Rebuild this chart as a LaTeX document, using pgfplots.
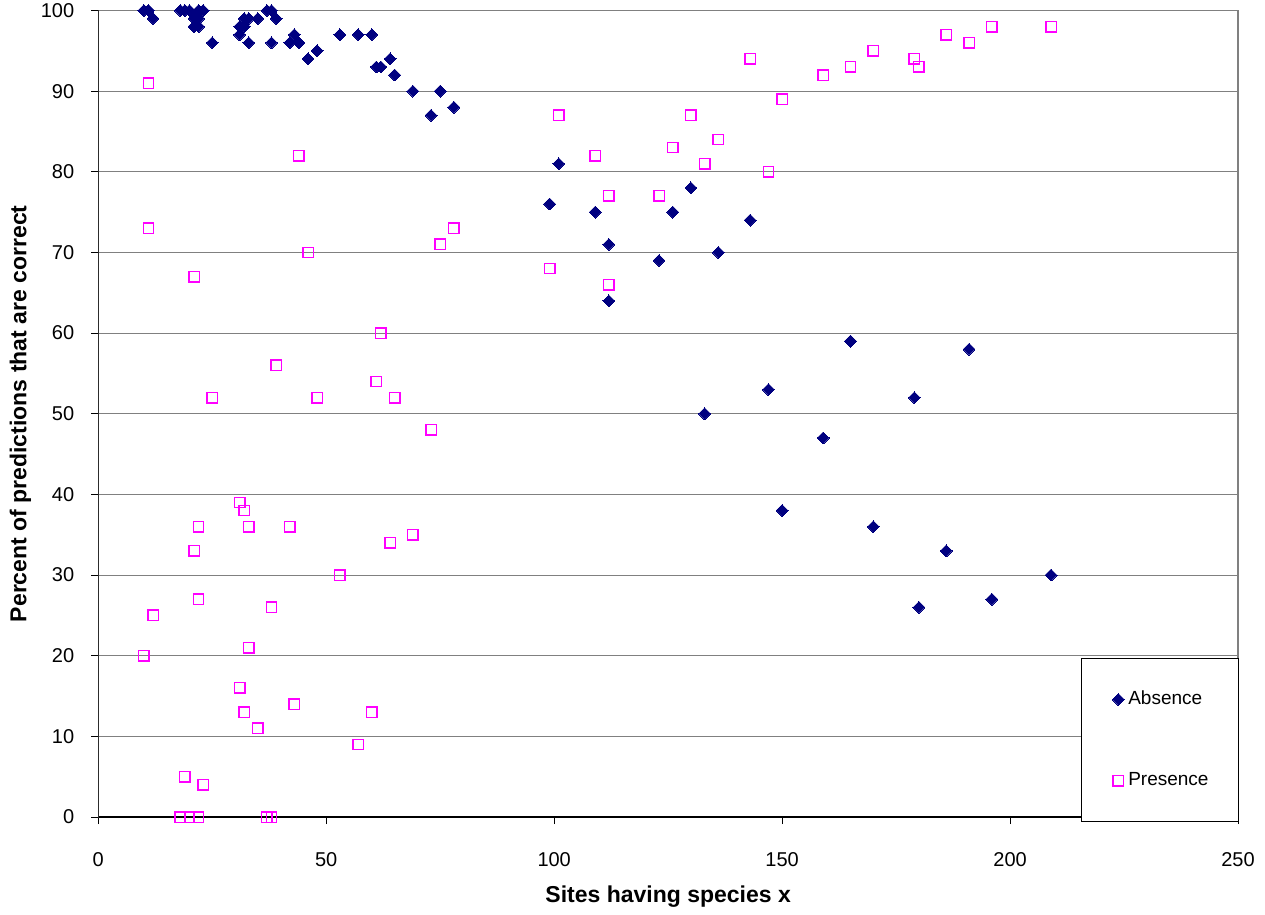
\documentclass[border=0pt]{standalone}
\usepackage{pgfplots}
\pgfplotsset{compat=1.18}
\usepackage{fontspec}
\setmainfont{Liberation Sans}
\definecolor{absc}{RGB}{0,0,128}
\definecolor{presc}{RGB}{255,0,255}
\definecolor{gridc}{RGB}{128,128,128}
\begin{document}
\begin{tikzpicture}
\begin{axis}[
  scale only axis,
  width=569.85pt, height=403.25pt,
  xmin=0, xmax=250, ymin=0, ymax=100,
  xtick={0,50,100,150,200,250},
  ytick={0,10,20,30,40,50,60,70,80,90,100},
  xtick pos=bottom, ytick pos=left,
  tick align=outside,
  major tick length=3.5pt,
  tick style={black, line width=0.5pt},
  axis line style={draw=gridc, line width=0.6pt},
  ymajorgrids,
  grid style={gridc, line width=0.5pt},
  /pgf/number format/assume math mode=true,
  tick label style={font=\fontsize{10}{12}\selectfont},
  xticklabel style={yshift=-10.5pt},
  yticklabel style={xshift=-5pt},
  xlabel={\textbf{Sites having species x}},
  ylabel={\textbf{Percent of predictions that are correct}},
  label style={font=\fontsize{11.5}{13}\selectfont},
  xlabel style={at={(axis description cs:0.5,-0.0992)}, anchor=center},
  ylabel style={at={(axis description cs:-0.0684,0.5)}, anchor=center},
  legend cell align=left,
  legend image code/.code={\path[draw=none,fill=none] (-1.1pt,0pt) -- (0pt,0pt); \draw[mark repeat=2,mark phase=2,#1] plot coordinates {(0cm,0cm)(0.15cm,0cm)(0.3cm,0cm)};},
  legend style={at={(rel axis cs:1.001,-0.0065)}, anchor=south east,
    draw=black, line width=0.6pt, fill=white,
    inner xsep=13pt, inner ysep=14.5pt,
    row sep=28.35pt,
    font=\fontsize{9.5}{11}\selectfont},
]
\addplot[only marks, mark=square*, mark size=2.1pt, mark options={rotate=45, fill=absc, draw=absc, line width=0pt}] coordinates {
(10,100) (11,100) (11,100) (12,99) (18,100) (19,100) (20,100) (21,99) (21,98)
(22,98) (22,99) (22,100) (23,100) (25,96) (31,97) (31,98) (32,99) (32,98)
(33,99) (33,96) (35,99) (37,100) (38,100) (38,96) (39,99) (42,96) (43,97)
(44,96) (46,94) (48,95) (53,97) (57,97) (60,97) (61,93) (62,93) (64,94)
(65,92) (69,90) (73,87) (75,90) (78,88) (99,76) (101,81) (109,75) (112,71)
(112,64) (123,69) (126,75) (130,78) (133,50) (136,70) (143,74) (147,53)
(150,38) (159,47) (165,59) (170,36) (179,52) (180,26) (186,33) (191,58)
(196,27) (209,30)
};
\addlegendentry{Absence}
\addplot[only marks, mark=square, mark size=2.6pt, mark options={draw=presc, line width=0.7pt}] coordinates {
(10,20) (11,91) (11,73) (12,25) (18,0) (19,5) (20,0) (21,67) (21,33)
(22,36) (22,27) (22,0) (23,4) (25,52) (31,39) (31,16) (32,38) (32,13)
(33,36) (33,21) (35,11) (37,0) (38,26) (38,0) (39,56) (42,36) (43,14)
(44,82) (46,70) (48,52) (53,30) (57,9) (60,13) (61,54) (62,60) (64,34)
(65,52) (69,35) (73,48) (75,71) (78,73) (99,68) (101,87) (109,82) (112,77)
(112,66) (123,77) (126,83) (130,87) (133,81) (136,84) (143,94) (147,80)
(150,89) (159,92) (165,93) (170,95) (179,94) (180,93) (186,97) (191,96)
(196,98) (209,98)
};
\addlegendentry{Presence}
\draw[black, line width=0.6pt] (rel axis cs:0,1) -- (rel axis cs:0,0) -- (rel axis cs:1,0);
\end{axis}
\pgfresetboundingbox
\path[use as bounding box] ([shift={(-49.15pt,-48.5pt)}]current axis.south west) rectangle ([shift={(13.5pt,5.25pt)}]current axis.north east);
\end{tikzpicture}
\end{document}
